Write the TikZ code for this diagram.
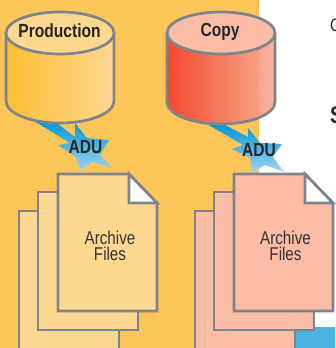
\documentclass[tikz,border=0pt]{standalone}
\usepackage{fontspec}
\setmainfont{Liberation Sans}
\newfontfamily\narrowsans[FakeStretch=.82]{Liberation Sans}
\usetikzlibrary{shapes.geometric,patterns}
\definecolor{pageorange}{RGB}{254,198,88}
\definecolor{lightorange}{RGB}{254,215,144}
\definecolor{deeporange}{RGB}{254,190,50}
\definecolor{lightsalmon}{RGB}{251,189,165}
\definecolor{deepred}{RGB}{242,48,28}
\definecolor{framegray}{RGB}{125,133,140}
\definecolor{rayblue}{RGB}{0,150,212}
\definecolor{palesky}{RGB}{165,212,238}
\definecolor{skyblue}{RGB}{75,178,226}
\begin{document}
\begin{tikzpicture}[
  x=1pt,y=-1pt,
  frame line/.style={draw=framegray,line width=2.7pt,line join=miter},
  db top/.style={frame line,ellipse,inner sep=0pt,minimum width=108pt,minimum height=42pt},
  sheet/.style={frame line,fill=#1},
  fold/.style={frame line,fill=white},
  ray/.style={top color=rayblue,bottom color=palesky},
  big label/.style={font=\narrowsans\bfseries\fontsize{19}{19}\selectfont,text=black!85,inner sep=0pt},
  file label/.style={font=\narrowsans\fontsize{18.5}{16.7}\selectfont,text=black!80,align=center,inner sep=0pt},
  edge letter/.style={font=\narrowsans\fontsize{18}{18}\selectfont,text=black!85,anchor=west,inner sep=0pt},
  ]
  \useasboundingbox (0,0) rectangle (335,348);
  % backgrounds
  \fill[pageorange] (0,0) rectangle (259,348);
  \fill[skyblue] (296,327) rectangle (335,348);
  \node[edge letter] (cut-c) at (330,25) {C};
  \node[edge letter,font=\narrowsans\bfseries\fontsize{24}{24}\selectfont] (cut-s) at (330,115) {S};

  % rays
  \path[ray] (34,121) -- (58,124) -- (75,137) -- (75,123) -- (87,138) -- (109,140) -- (100,155)
    -- (112,168) -- (92,162) -- (80,171) -- (76,157) -- (58,145) -- (70,143) -- cycle;
  \path[ray] (207,124) -- (225,125) -- (248,137) -- (248,128) -- (260,143) -- (282,144) -- (273,157)
    -- (284,172) -- (265,165) -- (252,173) -- (250,158) -- (232,149) -- (243,145) -- cycle;

  % production cylinder
  \path[frame line,left color=deeporange,right color=lightorange]
    (6,33) -- (6,101) arc[start angle=180,end angle=0,x radius=54,y radius=22]
    -- (114,33) -- cycle;
  \node[db top,fill=lightorange] (prod-top) at (60,33) {};
  \node[big label] (prod-lab) at (59.5,31) {Production};
  \draw[white,opacity=.25,line width=.7pt] (29,111) -- (37,119) (33,110) -- (41,119);

  % copy cylinder
  \path[left color=deepred,right color=lightsalmon!85!deepred,fill opacity=.9]
    (167,33) -- (167,102) arc[start angle=180,end angle=0,x radius=54,y radius=22]
    -- (275,33) -- cycle;
  \path[pattern=north west lines,pattern color=white,opacity=.18]
    (167,33) -- (167,102) arc[start angle=180,end angle=0,x radius=54,y radius=22]
    -- (275,33) -- cycle;
  \path[frame line]
    (167,33) -- (167,102) arc[start angle=180,end angle=0,x radius=54,y radius=22]
    -- (275,33);
  \node[db top,fill=lightsalmon] (copy-top) at (221,33) {};
  \node[big label] (copy-lab) at (220,32) {Copy};

  \node[big label] (adu-a) at (85.5,147) {ADU};
  \node[big label] (adu-b) at (259,150) {ADU};

  % production files
  \path[sheet=lightorange] (19,211) rectangle (119,356);
  \path[sheet=lightorange] (38,192) rectangle (138,330);
  \path[sheet=lightorange] (58,174) -- (129,174) -- (157,203) -- (157,311) -- (58,311) -- cycle;
  \path[fold] (129,174) -- (157,203) -- (129,203) -- cycle;
  \node[file label] (files-a) at (110,246) {Archive\\Files};

  % copy files
  \path[sheet=lightsalmon] (195,211) rectangle (295,356);
  \path[sheet=lightsalmon] (214,192) rectangle (314,330);
  \path[sheet=lightsalmon] (234,174) -- (305,174) -- (333,203) -- (333,311) -- (234,311) -- cycle;
  \path[fold] (305,174) -- (333,203) -- (305,203) -- cycle;
  \node[file label] (files-b) at (285.5,246) {Archive\\Files};
\end{tikzpicture}
\end{document}
